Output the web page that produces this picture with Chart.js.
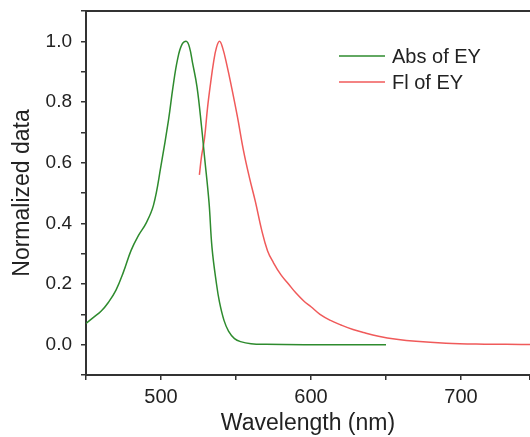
<!DOCTYPE html>
<html>
<head>
<meta charset="utf-8">
<script src="https://cdn.jsdelivr.net/npm/chart.js@4/dist/chart.umd.min.js"></script>
<style>
html,body{margin:0;padding:0;background:#fff;}
#wrap{width:530px;height:437px;position:relative;}
</style>
</head>
<body>
<div id="wrap"><canvas id="c" width="530" height="437"></canvas></div>
<script>
// Absorption of EY (green)
const absWavelength = [450,455,460,465,470,475,480,485,490,495,500,505,508,511,514,517,519,521,524,527,529,532,534,537,539,542,545,549,553,560,570,600,650];
const absValues     = [0.07,0.09,0.11,0.14,0.18,0.24,0.31,0.36,0.40,0.46,0.59,0.74,0.85,0.94,0.99,1.0,0.98,0.93,0.85,0.72,0.62,0.47,0.32,0.20,0.14,0.08,0.045,0.02,0.01,0.003,0.001,0,0];
// Fluorescence of EY (red)
const flWavelength = [525.6,527,529,531,533,535,537,539,541,544,547,551,555,559,563,567,571,575,580,585,590,595,600,606,613,620,628,635,645,657,670,690,710,730,750];
const flValues     = [0.56,0.62,0.68,0.78,0.86,0.93,0.98,1.0,0.98,0.92,0.85,0.75,0.64,0.55,0.47,0.38,0.31,0.27,0.23,0.20,0.17,0.145,0.125,0.10,0.08,0.065,0.05,0.04,0.028,0.018,0.011,0.005,0.002,0.001,0];
const seriesLabels = ["Abs of EY","Fl of EY"];
const xTickLabels = [500,600,700];
const yTickLabels = [0.0,0.2,0.4,0.6,0.8,1.0];

const FONT = "'Liberation Sans', Arial, sans-serif";

const frame = {
  id:'frame',
  afterDraw(chart){
    const {ctx, chartArea:a} = chart;
    ctx.save();
    ctx.strokeStyle='#333'; ctx.lineWidth=2;
    ctx.beginPath(); ctx.moveTo(a.left-1,a.top); ctx.lineTo(a.right,a.top); ctx.stroke();
    // legend
    ctx.font = "20px "+FONT; ctx.textBaseline='middle'; ctx.fillStyle='#222';
    chart.data.datasets.forEach((ds,i)=>{
      const y = 56 + i*26;
      ctx.strokeStyle = ds.borderColor; ctx.lineWidth=1.5;
      ctx.beginPath(); ctx.moveTo(339,y); ctx.lineTo(385,y); ctx.stroke();
      ctx.fillText(ds.label, 392, y+1);
    });
    ctx.restore();
  }
};

new Chart(document.getElementById('c'), {
  type:'line',
  data:{
    datasets:[
      {label:seriesLabels[0], data:absWavelength.map((x,i)=>({x, y:absValues[i]})), borderColor:'#2e8b2e', borderWidth:1.5, pointRadius:0, tension:0.4, fill:false},
      {label:seriesLabels[1], data:flWavelength.map((x,i)=>({x, y:flValues[i]})), borderColor:'#f05a5a', borderWidth:1.5, pointRadius:0, tension:0.4, fill:false}
    ]
  },
  options:{
    responsive:false, animation:false,
    layout:{padding:{top:11,right:0,left:0,bottom:0}},
    plugins:{legend:{display:false}, tooltip:{enabled:false}},
    scales:{
      x:{type:'linear', min:450, max:746,
        border:{color:'#333', width:2},
        grid:{drawOnChartArea:false, drawTicks:true, tickLength:5, tickColor:'#333', lineWidth:1.5},
        ticks:{stepSize:50, autoSkip:false, maxRotation:0, color:'#222', font:{family:FONT, size:20}, padding:5,
          callback:(v)=> xTickLabels.includes(v) ? String(v) : ''},
        title:{display:true, text:'Wavelength (nm)', color:'#222', font:{family:FONT, size:23}, padding:{top:1,bottom:0}},
        afterFit(s){ s.height = 62; s.paddingLeft = 0; s.paddingRight = 0; }
      },
      y:{type:'linear', min:-0.1, max:1.1,
        border:{color:'#333', width:2},
        grid:{drawOnChartArea:false, drawTicks:true, tickLength:5, tickColor:'#333', lineWidth:1.5},
        ticks:{stepSize:0.1, autoSkip:false, color:'#222', font:{family:FONT, size:19}, padding:9,
          callback:(v)=>{ const r=Math.round(v*10)/10; return yTickLabels.some(t=>Math.abs(t-r)<1e-6) && Math.abs(v-r)<1e-6 ? r.toFixed(1) : ''; }},
        title:{display:true, text:'Normalized data', color:'#222', font:{family:FONT, size:23}, padding:{top:9,bottom:0}},
        afterFit(s){ s.width = 86; s.paddingTop = 0; s.paddingBottom = 0; }
      }
    }
  },
  plugins:[frame]
});
</script>
</body>
</html>
